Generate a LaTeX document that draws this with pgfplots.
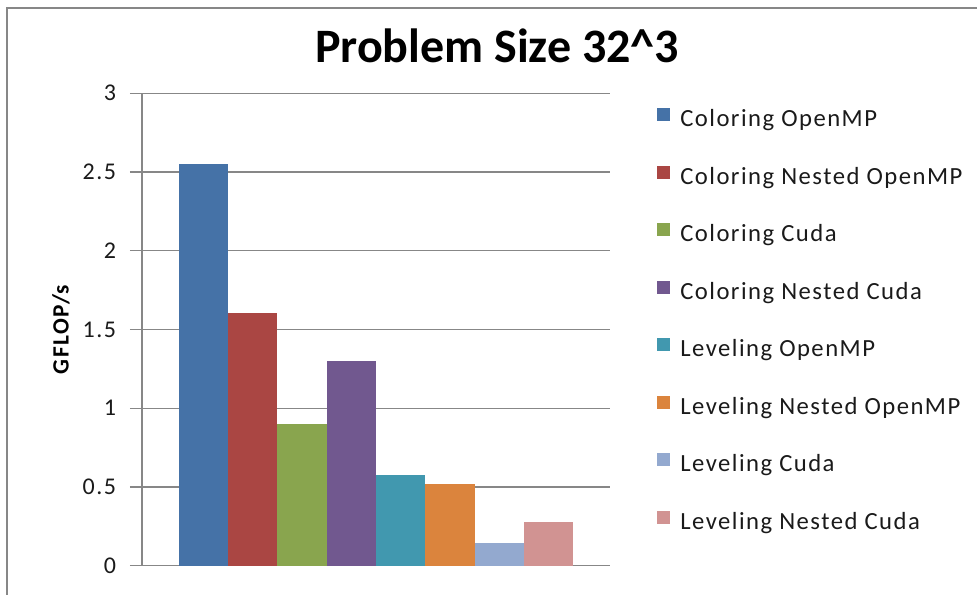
\documentclass[border=0pt]{standalone}
\usepackage{pgfplots}
\pgfplotsset{compat=1.18}
\usepackage{fontspec}
\setmainfont{Carlito}
\newfontfamily\spfont[LetterSpace=6]{Carlito}
\definecolor{c1}{HTML}{4572A7}
\definecolor{c2}{HTML}{AA4643}
\definecolor{c3}{HTML}{89A54E}
\definecolor{c4}{HTML}{71588F}
\definecolor{c5}{HTML}{4198AF}
\definecolor{c6}{HTML}{DB843D}
\definecolor{c7}{HTML}{93A9CF}
\definecolor{c8}{HTML}{D19392}
\definecolor{gridgray}{HTML}{878787}
\definecolor{txt}{HTML}{1A1A1A}
\begin{document}
\begin{tikzpicture}[x=0.75pt,y=0.75pt]
\useasboundingbox (0,0) rectangle (977,595);
\draw[color=gridgray, line width=1.2pt] (7,0) -- (7,587) -- (977,587);
\node[font=\bfseries\fontsize{36}{40}\selectfont, anchor=base] at (497,532) {Problem Size 32\textasciicircum 3};
\begin{axis}[
  at={(106.5pt,22pt)}, anchor=south west, scale only axis,
  width=351pt, height=354.3pt,
  ybar=0pt, bar width=36.94pt,
  xmin=-1, xmax=1, ymin=0, ymax=3,
  xtick=\empty,
  ytick={0,0.5,1,1.5,2,2.5,3},
  axis x line*=bottom, axis y line*=left,
  axis line style={gridgray, line width=0.9pt, -},
  ymajorgrids, grid style={gridgray, line width=0.9pt},
  tick align=outside, major tick length=9pt,
  tick style={gridgray, line width=0.9pt},
  /pgf/number format/assume math mode=true,
  yticklabel style={font=\spfont\fontsize{18}{20}\selectfont, text=txt, xshift=-7pt},
  ylabel={GFLOP/s},
  ylabel style={font=\spfont\bfseries\fontsize{17.5}{19}\selectfont, at={(axis description cs:-0.173,0.5)}, anchor=center, text=black},
  legend cell align=left,
  legend image code/.code={\fill[#1] (0pt,0pt) rectangle (9.75pt,9.75pt);},
  legend style={draw=none, fill=none, at={(rel axis cs:1,1)}, anchor=north west,
    xshift=35.25pt, yshift=-11pt, row sep=25.4pt, column sep=7.5pt, inner sep=0pt,
    nodes={inner sep=0pt, text height=12pt, text depth=4pt, text=txt, font=\spfont\fontsize{18.5}{20}\selectfont}},
]
\addplot[fill=c1, draw=none] coordinates {(0,2.551)};
\addplot[fill=c2, draw=none] coordinates {(0,1.603)};
\addplot[fill=c3, draw=none] coordinates {(0,0.900)};
\addplot[fill=c4, draw=none] coordinates {(0,1.302)};
\addplot[fill=c5, draw=none] coordinates {(0,0.574)};
\addplot[fill=c6, draw=none] coordinates {(0,0.521)};
\addplot[fill=c7, draw=none] coordinates {(0,0.146)};
\addplot[fill=c8, draw=none] coordinates {(0,0.275)};
\legend{Coloring OpenMP, Coloring Nested OpenMP, Coloring Cuda, Coloring Nested Cuda, Leveling OpenMP, Leveling Nested OpenMP, Leveling Cuda, Leveling Nested Cuda}
\end{axis}
\end{tikzpicture}
\end{document}
